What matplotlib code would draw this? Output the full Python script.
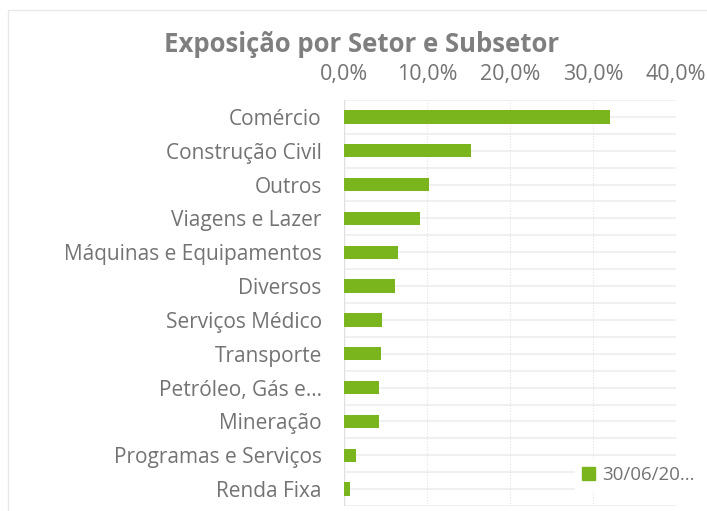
import matplotlib.pyplot as plt
from matplotlib.patches import Rectangle
from matplotlib.ticker import FuncFormatter

categories = ['Comércio', 'Construção Civil', 'Outros', 'Viagens e Lazer',
              'Máquinas e Equipamentos', 'Diversos', 'Serviços Médico',
              'Transporte', 'Petróleo, Gás e…', 'Mineração',
              'Programas e Serviços', 'Renda Fixa']
values = [32.0, 15.3, 10.3, 9.1, 6.5, 6.1, 4.6, 4.4, 4.2, 4.2, 1.4, 0.7]
x_ticks = [0, 10, 20, 30, 40]
legend_label = '30/06/20...'

plt.rcParams['font.family'] = ['Open Sans', 'DejaVu Sans']
green = '#7ab51d'
text_grey = '#737373'

fig = plt.figure(figsize=(7.07, 5.11), dpi=100)
fig.patch.set_facecolor('white')
fig.patches.append(Rectangle((8 / 707, -0.02), 1.1, 1.0 - 10 / 511 + 0.02,
                             transform=fig.transFigure, facecolor='none',
                             edgecolor='#e8e8e8', lw=1, zorder=0))

ax = fig.add_axes([344 / 707, 5 / 511, 332 / 707, 406 / 511])
pos = list(range(len(categories)))
ax.barh(pos, values, height=0.39, color=green, zorder=3)
ax.set_ylim(len(categories) - 0.5, -0.5)
ax.set_xlim(0, 40)

ax.set_yticks(pos)
ax.set_yticklabels(categories, fontsize=15, color=text_grey)
ax.set_xticks(x_ticks)
ax.xaxis.set_major_formatter(FuncFormatter(lambda v, p: f'{v:.1f}%'.replace('.', ',')))
ax.xaxis.tick_top()
ax.tick_params(axis='x', labelsize=15.5, colors=text_grey, length=0, pad=11)
ax.tick_params(axis='y', length=0, pad=16)

# half-category horizontal grid lines, dotted verticals
for y in [i * 0.5 - 0.5 for i in range(2 * len(categories) + 1)]:
    ax.axhline(y, color='#eeeeee', lw=1.2, zorder=1)
for x in x_ticks:
    ax.axvline(x, color='#e4e4e4', lw=0.8, ls=(0, (1, 1.5)), zorder=1)
for s in ax.spines.values():
    s.set_visible(False)
ax.axvline(0, color='#e0e0e0', lw=1, zorder=2)

fig.text(362 / 707, 1 - 45 / 511, 'Exposição por Setor e Subsetor', ha='center',
         va='center', fontsize=18.5, fontweight='bold', color='#7f7f7f')

leg = ax.legend([Rectangle((0, 0), 1, 1, color=green)], [legend_label],
                loc='center left', bbox_to_anchor=(566 / 707, 1 - 475 / 511),
                bbox_transform=fig.transFigure, frameon=True, fontsize=13.5,
                handlelength=0.7, handleheight=0.7, handletextpad=0.4,
                borderpad=0.35, labelcolor=text_grey)
leg.get_frame().set_edgecolor('white')
leg.get_frame().set_facecolor('white')
leg.get_frame().set_alpha(1)

fig.savefig('out.png', dpi=100)
